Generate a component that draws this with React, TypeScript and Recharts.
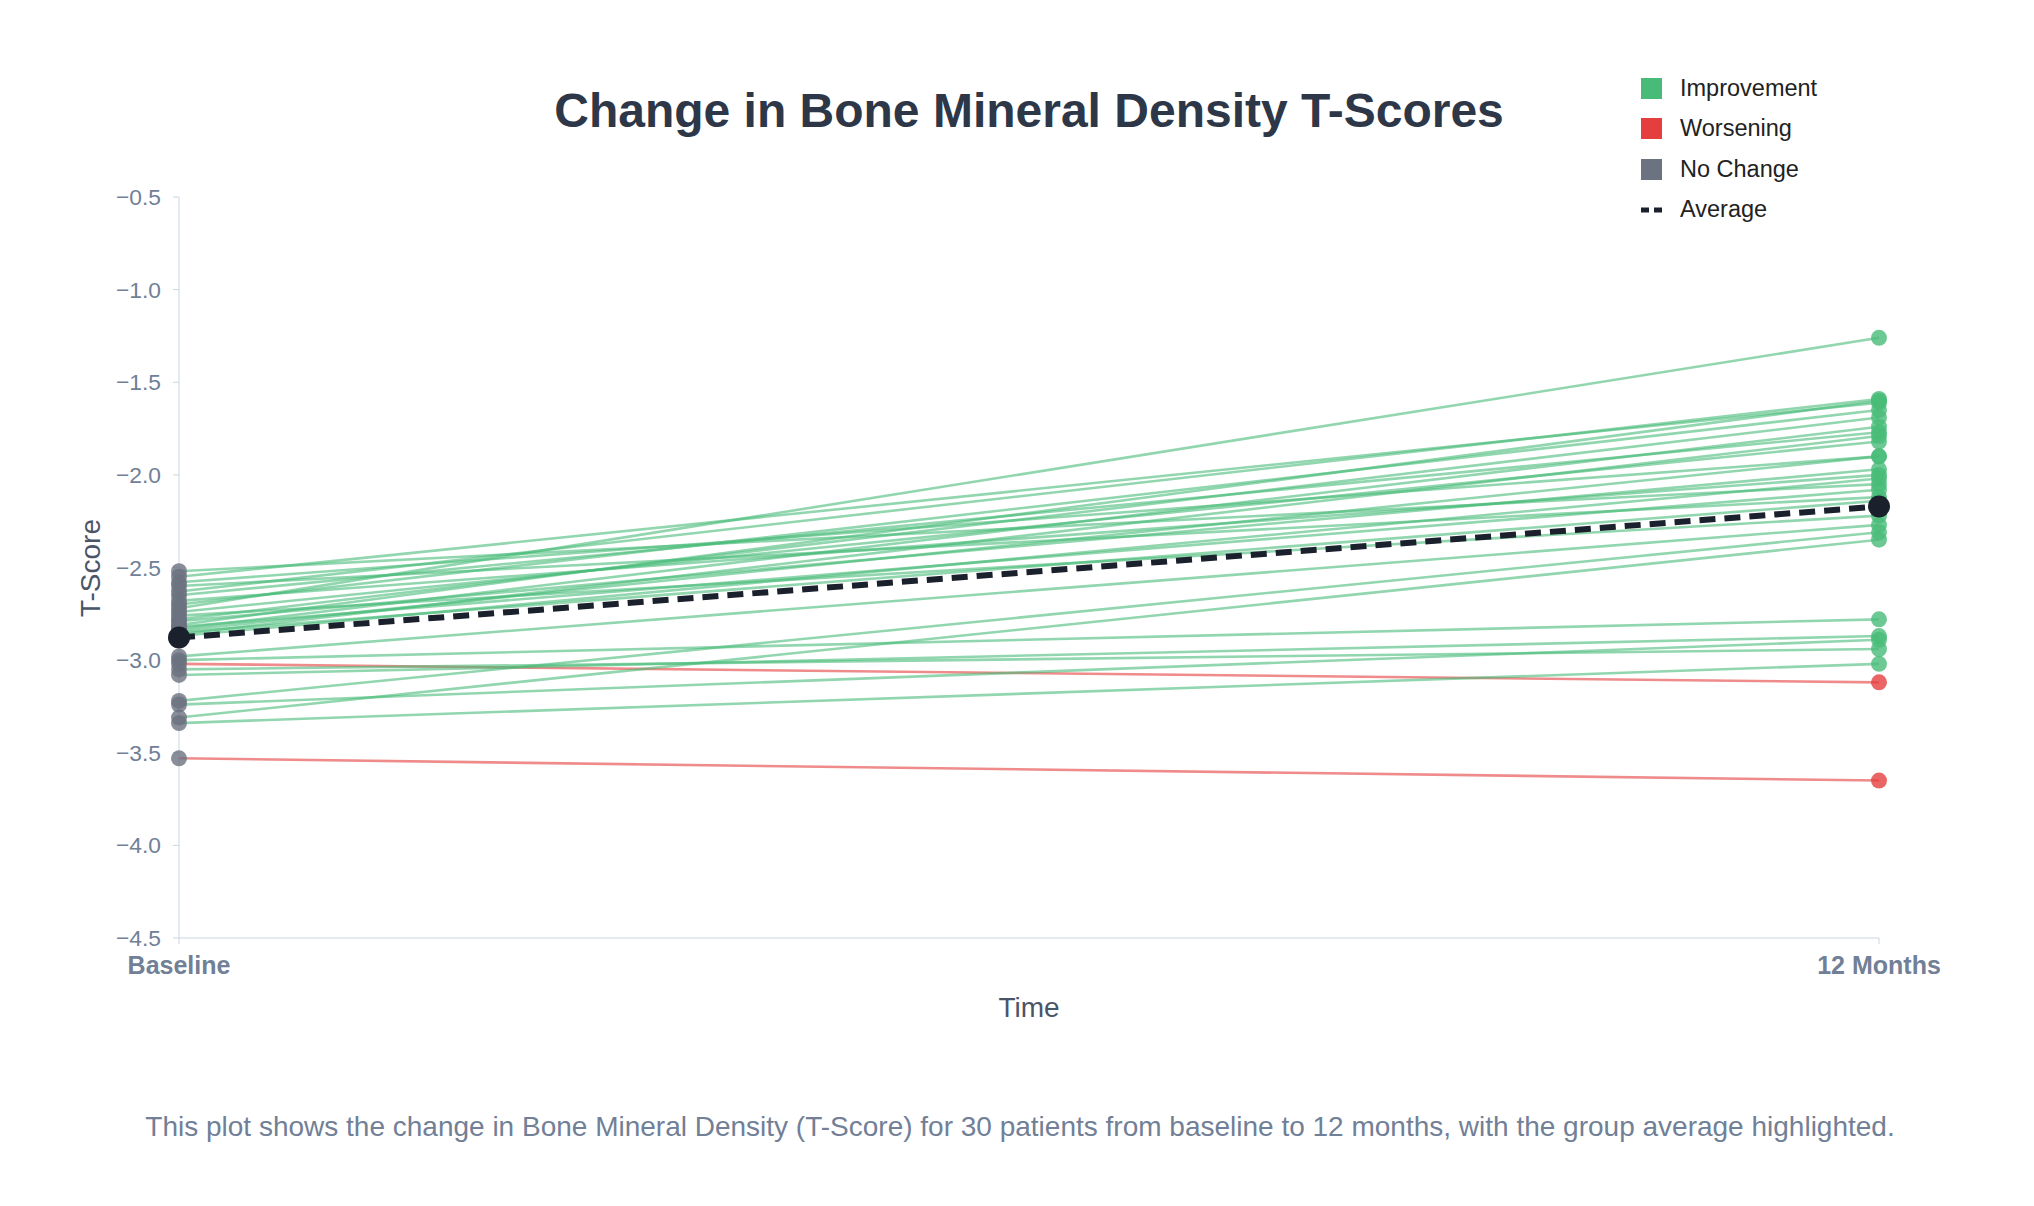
import React from 'react';
import { ComposedChart, Line, XAxis, YAxis } from 'recharts';

// Time points (x positions 0 and 1 on a numeric axis)
const timeLabels = ['Baseline', '12 Months'];
const timeTicks = [0, 1];

// T-scores per patient (same order in both arrays)
const baselineScores = [
  -2.52, -2.55, -2.58, -2.6, -2.63, -2.65, -2.68, -2.7, -2.72, -2.74,
  -2.76, -2.78, -2.79, -2.81, -2.82, -2.83, -2.84, -2.85, -2.86, -2.87,
  -2.98, -3.0, -3.02, -3.05, -3.08, -3.22, -3.24, -3.31, -3.34, -3.53,
];
const month12Scores = [
  -2.05, -1.61, -1.9, -2.12, -1.59, -1.77, -2.0, -1.65, -1.26, -1.82,
  -2.22, -1.69, -1.97, -1.6, -2.08, -1.74, -1.9, -2.14, -1.79, -2.02,
  -2.27, -2.78, -3.12, -2.94, -2.87, -2.31, -2.89, -2.35, -3.02, -3.65,
];

const yTicks = [-4.5, -4.0, -3.5, -3.0, -2.5, -2.0, -1.5, -1.0, -0.5];

const legendItems = ['Improvement', 'Worsening', 'No Change', 'Average'];

const COLORS = {
  Improvement: '#48bb78',
  Worsening: '#e53e3e',
  'No Change': '#6b7280',
  Average: '#1a202c',
};

const FONT = '"Liberation Sans", Arial, Helvetica, sans-serif';

const W = 2018;
const H = 1190;

const groupOf = (b: number, a: number) =>
  a > b ? 'Improvement' : a < b ? 'Worsening' : 'No Change';

const patients = baselineScores.map((b, i) => {
  const a = month12Scores[i];
  const group = groupOf(b, a);
  return {
    id: i + 1,
    group,
    points: [
      { x: 0, y: b },
      { x: 1, y: a, group },
    ],
  };
});

const mean = (arr: number[]) => arr.reduce((s, v) => s + v, 0) / arr.length;
const averagePoints = [
  { x: 0, y: mean(baselineScores) },
  { x: 1, y: mean(month12Scores) },
];

const baselinePoints = baselineScores.map((y) => ({ x: 0, y }));
const endPoints = patients.map((p) => p.points[1]);

const fmtY = (v: number) => v.toFixed(1).replace('-', '\u2212');
const fmtX = (v: number) => timeLabels[timeTicks.indexOf(v)] ?? '';

const baselineDot = (props: any) => {
  const { cx, cy, index } = props;
  return (
    <circle key={`b-${index}`} cx={cx} cy={cy} r={8} fill={COLORS['No Change']} fillOpacity={0.8} />
  );
};

const endDot = (props: any) => {
  const { cx, cy, index, payload } = props;
  return (
    <circle
      key={`e-${index}`}
      cx={cx}
      cy={cy}
      r={8}
      fill={(COLORS as any)[payload.group]}
      fillOpacity={0.8}
    />
  );
};

const avgDot = (props: any) => {
  const { cx, cy, index } = props;
  return <circle key={`a-${index}`} cx={cx} cy={cy} r={11} fill={COLORS.Average} />;
};

function LegendBox() {
  return (
    <div style={{ position: 'absolute', left: 1633, top: 60 }}>
      {legendItems.map((name) => (
        <div
          key={name}
          style={{ display: 'flex', alignItems: 'center', height: 40.5, fontSize: 23.5, color: '#222' }}
        >
          {name === 'Average' ? (
            <svg width={22} height={22} style={{ marginRight: 17 }}>
              <line x1={0} y1={11} x2={22} y2={11} stroke={COLORS.Average} strokeWidth={5} strokeDasharray="8 5" />
            </svg>
          ) : (
            <div
              style={{
                width: 21,
                height: 21,
                background: (COLORS as any)[name],
                marginRight: 18,
              }}
            />
          )}
          <span>{name}</span>
        </div>
      ))}
    </div>
  );
}

export default function App() {
  return (
    <div style={{ position: 'relative', width: W, height: H, fontFamily: FONT, background: '#fff' }}>
      <ComposedChart
        width={W}
        height={H}
        margin={{ top: 189, right: 147, bottom: 220, left: 91 }}
      >
        <XAxis
          dataKey="x"
          type="number"
          domain={[0, 1]}
          ticks={timeTicks}
          tickFormatter={fmtX}
          height={40}
          stroke="#cbd5e0"
          tickSize={6}
          tickMargin={12}
          tick={{ fill: '#718096', fontSize: 25, fontWeight: 'bold', fontFamily: FONT }}
          tickLine={{ stroke: '#cbd5e0' }}
        />
        <YAxis
          type="number"
          domain={[-4.5, -0.5]}
          ticks={yTicks}
          tickFormatter={fmtY}
          width={80}
          stroke="#cbd5e0"
          tickSize={6}
          tickMargin={12}
          tick={{ fill: '#718096', fontSize: 22.8, fontFamily: FONT }}
          tickLine={{ stroke: '#cbd5e0' }}
        />
        {patients.map((p) => (
          <Line
            key={`p-${p.id}`}
            data={p.points}
            dataKey="y"
            stroke={(COLORS as any)[p.group]}
            strokeOpacity={0.6}
            strokeWidth={2.6}
            dot={false}
            activeDot={false}
            isAnimationActive={false}
          />
        ))}
        <Line
          data={baselinePoints}
          dataKey="y"
          stroke="none"
          dot={baselineDot}
          activeDot={false}
          isAnimationActive={false}
        />
        <Line
          data={endPoints}
          dataKey="y"
          stroke="none"
          dot={endDot}
          activeDot={false}
          isAnimationActive={false}
        />
        <Line
          data={averagePoints}
          dataKey="y"
          stroke={COLORS.Average}
          strokeWidth={6}
          strokeDasharray="16 9"
          dot={avgDot}
          activeDot={false}
          isAnimationActive={false}
        />
      </ComposedChart>

      <div
        style={{
          position: 'absolute',
          left: 1021 - 700,
          width: 1400,
          top: 103 - 30,
          height: 60,
          lineHeight: '60px',
          textAlign: 'center',
          fontSize: 48,
          fontWeight: 'bold',
          color: '#2d3748',
        }}
      >
        Change in Bone Mineral Density T-Scores
      </div>

      <div
        style={{
          position: 'absolute',
          left: 1021 - 200,
          width: 400,
          top: 1000 - 20,
          height: 40,
          lineHeight: '40px',
          textAlign: 'center',
          fontSize: 28,
          color: '#4a5568',
        }}
      >
        Time
      </div>

      <div
        style={{
          position: 'absolute',
          left: 83 - 100,
          top: 560 - 20,
          width: 200,
          height: 40,
          lineHeight: '40px',
          textAlign: 'center',
          fontSize: 28,
          color: '#4a5568',
          transform: 'rotate(-90deg)',
        }}
      >
        T-Score
      </div>

      <div
        style={{
          position: 'absolute',
          left: 1012 - 1000,
          width: 2000,
          top: 1119 - 20,
          height: 40,
          lineHeight: '40px',
          textAlign: 'center',
          fontSize: 28,
          color: '#718096',
        }}
      >
        This plot shows the change in Bone Mineral Density (T-Score) for 30 patients from baseline to 12 months, with the group average highlighted.
      </div>

      <LegendBox />
    </div>
  );
}
